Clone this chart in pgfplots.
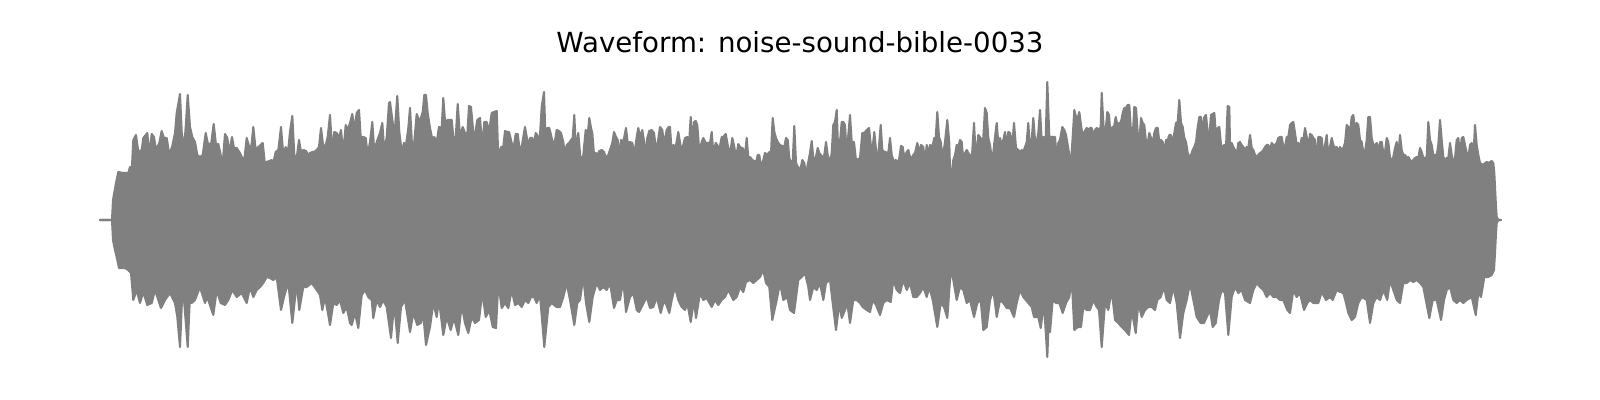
\documentclass[border=0pt]{standalone}
\usepackage{pgfplots}
\pgfplotsset{compat=1.18}
\usepackage{pgfplotstable}
\usepackage{fontspec}
\newfontfamily\dejavu{DejaVu Sans}
\definecolor{wave}{RGB}{128,128,128}
% upper envelope of the waveform: x position, amplitude
\pgfplotstableread{
x t
100 0
112 0
113 20
116 37
118.3 48
123.3 47
128.3 47
130 53
131.7 48
133.3 80
136 85
138.3 68
141.7 70
143.3 82
147.3 87
149.3 65
151.7 86
154 83
156 70
159.3 77
161.7 89
164 82
166.7 82
169.3 65
172.3 74
175 87
176.7 107
180 126
181.7 88
184 70
186 97
187.7 125
190 93
192.3 83
195 78
197.3 65
200 63
202.7 65
205.7 87
207.7 77
211 75
213.7 96
216 75
218.3 76
220.7 65
222.7 57
225 86
227.3 82
229.3 67
232 83
234 72
236.7 72
239.3 68
241.7 63
244.3 60
246.7 82
248.7 75
251 70
253.3 93
255.7 70
258.3 73
260.7 75
262.7 77
265 55
266.7 58
269.3 59
271.7 60
273.3 57
275.7 68
278.3 70
281 93
283.3 65
285.7 73
287.7 65
290 88
292.3 104
294.3 65
296.7 62
299 80
301 68
303.3 70
306 69
308.3 65
310 67
312.3 68
314.3 68
316.7 70
319 73
321 92
323.3 73
325.7 75
327.7 83
330 105
332.3 67
334.3 88
336.7 87
339 82
341 90
343.3 67
345.7 95
347.7 90
350 97
352.3 106
354.3 90
356.7 107
359 110
360.7 83
363.3 83
365.7 82
367.7 65
370 78
372.3 98
374.3 68
376.7 78
380 87
382.3 97
384.3 68
386.7 83
389 117
390 118
393.3 93
395 92
397.3 124
399.3 88
401.7 68
404 77
406 75
408.3 92
410 112
412 75
414 75
416.7 106
419 100
421 102
422.7 108
424.3 125
426 125
427.7 107
430 92
432 82
434.3 83
436.7 78
439 93
441.7 92
443.3 122
445.3 95
447.3 100
450 100
451.7 100
453.3 83
455.7 82
457.7 116
460 83
462.7 93
465 87
467.3 85
469 114
471 113
473.3 87
475 85
477.3 100
480 102
482.3 73
484.3 98
486.7 98
489 88
491.7 107
494 108
496.7 109
498.3 62
501 73
503.3 73
505 89
507.3 88
509 88
511 80
513.3 70
515.7 86
517.7 86
519.3 73
521.7 73
523.3 83
525 93
526.7 83
528.3 73
530 82
532.3 82
534 75
535.7 87
537.3 85
539.3 73
541.7 113
544 128
545.7 75
547.3 92
549.3 92
551.7 82
554 73
556.7 90
559 89
561 87
563.3 78
565 65
566.7 75
569 77
571 80
572.7 82
574.3 105
576 68
578.3 87
580.7 58
583.3 65
585.7 90
587.7 85
589.3 102
591 92
592.3 87
594 65
595.7 67
597.3 65
599.3 69
601.7 70
604 68
606 62
608.3 65
610 70
612.3 77
614 88
616 83
617.7 80
619.3 62
621 80
623.3 78
626 92
627.7 77
630 78
632.3 77
634.3 65
636.7 83
638.3 92
640 83
642.3 90
644.3 77
645.7 63
647.3 82
649.3 89
651.7 90
654 87
655.7 73
657.7 77
660 93
662.3 90
664 75
666.7 90
668.7 93
670 93
671.7 67
673.3 75
675.7 73
678.3 88
680.7 73
682.7 73
685 82
687.3 83
689 75
690.7 103
692.3 75
694 98
695.7 99
697.3 95
699.3 68
701.7 78
703.3 82
705.7 77
707.7 77
710 77
711.7 88
713.3 67
715.7 77
717.3 75
719.3 70
721.7 83
723.3 83
725.7 86
727.7 75
730 65
732.3 82
734.3 73
736 62
738.3 76
740.7 72
742.7 72
745 65
746.7 82
748.3 62
750 63
752.3 60
754.3 59
756 57
757.7 65
759.3 65
761 53
763.3 60
765 67
767.3 65
769.3 68
771 67
772.7 102
774.3 88
776 82
777.7 78
780 75
782.3 74
784.3 73
786 82
787.7 80
789.3 62
791 57
792.7 58
794.3 94
796 57
798.3 52
800.7 52
802.3 60
804.3 57
806 45
807.7 55
810 67
811.7 79
813.3 62
815.7 62
817.7 72
819.3 67
821 65
822.7 62
824.3 65
826 78
827.7 65
830 57
831.7 67
833.3 95
835 98
836.7 110
838.3 65
840 78
841.7 98
843.3 98
845 95
846.7 65
848.3 85
850 105
851.7 78
854 78
855.7 62
857.7 60
860 62
862.3 87
864.3 87
866.7 90
869 92
871 73
872.7 73
874.3 88
876.7 63
878.3 65
880.7 95
882.3 70
884.3 68
886 68
887.7 62
890 82
891.7 65
894 58
895.7 60
897.7 57
899.3 62
901 74
902.7 73
904.3 62
906.7 68
908.3 70
910 63
911.7 62
913.3 65
915 67
917.3 77
919.3 68
921 75
923.3 73
925 57
926.7 75
928.3 65
930 75
932.3 73
934.3 82
935.7 82
937.3 108
939 83
940.7 78
942.7 62
945 78
947.3 100
949.3 77
950 50
951.7 47
953.3 60
955 65
956.7 75
958.3 73
960 80
961.7 78
963.3 60
965 67
966.7 70
968.3 67
970 65
971.7 60
974 97
976 60
978.3 85
980 83
981.7 80
983.3 82
985 112
986.7 107
988.3 82
990 75
992.3 57
994.3 77
996.7 97
998.3 77
1000 82
1001.7 75
1003.3 80
1005 88
1006.7 73
1008.3 88
1010 87
1012.3 75
1014 97
1016 72
1018.3 70
1020 68
1021.7 70
1023.3 68
1025 73
1026.7 78
1028.3 97
1030 70
1031.7 80
1033.3 102
1035 80
1036.7 78
1038.3 87
1040 110
1041.7 80
1043.3 83
1045.7 82
1047.3 138
1049.3 83
1051 83
1052.7 83
1055 83
1056.7 62
1058.3 77
1060 80
1062.3 93
1064.3 90
1066 85
1067.7 75
1069.3 65
1071 58
1072.7 83
1074.3 110
1076 103
1077.7 102
1079.3 108
1081 95
1082.7 83
1084.3 88
1086.7 92
1088.3 90
1090 92
1091.7 92
1093.3 83
1095 90
1096.7 92
1099 90
1100.7 93
1101.7 127
1104 85
1105.7 90
1107.3 108
1109 105
1110.7 82
1112.3 93
1114 93
1115.7 103
1117.3 95
1119.3 97
1121 98
1122.7 107
1124.3 112
1126 112
1127.7 115
1129.3 115
1131 88
1132.7 83
1134.3 113
1136 112
1137.7 87
1139.3 77
1141 102
1142.7 97
1144.3 95
1146 78
1147.7 77
1149.3 87
1151 82
1152.7 77
1154.3 87
1156 92
1157.7 92
1159.3 78
1161 80
1162.7 78
1164.3 67
1166 80
1167.7 80
1169.3 85
1171 85
1172.7 75
1174.3 87
1176 97
1177.7 98
1179.3 120
1181 97
1182.7 93
1184.3 82
1186 78
1187.7 67
1189.3 63
1191 65
1192.7 70
1194.3 73
1196 78
1197.7 93
1199.3 103
1201 103
1202.7 88
1204.3 103
1206 105
1207.7 87
1209.3 83
1211 105
1212.7 106
1214.3 107
1216 85
1217.7 92
1219.3 93
1221 75
1222.7 73
1224.3 75
1226 73
1227.7 114
1229.3 113
1230 75
1231.7 77
1233.3 73
1235 70
1236.7 65
1238.3 77
1240 78
1241.7 75
1243.3 73
1245 70
1246.7 73
1248.3 72
1250 85
1251.7 72
1253.3 70
1255 65
1256.7 63
1258.3 65
1260 67
1261.7 68
1263.3 70
1265 73
1266.7 75
1268.3 75
1270 70
1271.7 77
1273.3 75
1275 75
1276.7 77
1278.3 82
1280 83
1281.7 83
1283.3 73
1285 73
1286.7 83
1288.3 83
1290 95
1291.7 97
1293.3 98
1295 87
1296.7 75
1298.3 77
1300 73
1301.7 82
1303.3 80
1305 92
1306.7 83
1308.3 72
1310 86
1311.7 85
1313.3 82
1315 80
1316.7 58
1318.3 83
1320 83
1321.7 82
1323.3 63
1325 75
1326.7 85
1328.3 63
1330 73
1331.7 82
1333.3 75
1335 72
1336.7 73
1338.3 68
1340 73
1341.7 70
1343.3 72
1345 77
1346.7 95
1348.3 93
1350 88
1351.7 103
1353.3 105
1355 90
1356.7 97
1358.3 95
1360 80
1361.7 78
1363.3 68
1365 68
1366.7 80
1368.3 103
1370 103
1371.7 82
1373.3 75
1375 75
1376.7 77
1378.3 68
1380 78
1381.7 78
1383.3 67
1385 68
1386.7 82
1388.3 78
1390 62
1391.7 60
1393.3 63
1395 72
1396.7 78
1398.3 65
1400 85
1401.7 70
1403.3 65
1405 65
1406.7 62
1408.3 63
1410 60
1411.7 58
1413.3 60
1415 62
1416.7 63
1418.3 62
1420 72
1421.7 68
1423.3 62
1425 62
1426.7 63
1428.3 98
1430 80
1431.7 75
1433.3 65
1435 65
1436.7 65
1438.3 75
1440 100
1441.7 80
1443.3 63
1445 60
1446.7 62
1448.3 62
1450 77
1451.7 65
1453.3 57
1455 62
1456.7 80
1458.3 82
1460 65
1461.7 82
1463.3 83
1465 75
1466.7 67
1468.3 62
1470 75
1471.7 77
1473.3 62
1475 95
1476.7 75
1478.3 65
1480 57
1481.7 56
1483.3 55
1485 57
1486.7 58
1488.3 57
1490 58
1491.7 59
1493.3 57
1494.3 47
1495 33
1496 13
1496.7 3
1498.3 0
1501 0
}\wavetop
% lower envelope of the waveform: x position, amplitude
\pgfplotstableread{
x b
100 0
112 0
113 -20
115 -30
116.7 -37
119 -48
125 -48
128 -50
131 -53
133.3 -80
136.7 -70
140 -83
143.3 -72
147.3 -85
151.7 -83
155 -70
161 -88
165 -80
170 -73
175 -83
177.3 -97
180 -127
182 -80
184.3 -83
187.7 -127
189.7 -82
191.7 -83
195 -80
200 -67
205 -83
207.3 -77
213.3 -95
216.7 -70
220.7 -83
225 -85
228.3 -80
232.3 -70
236.7 -77
241.7 -73
246.7 -83
250 -67
253.3 -77
256.7 -70
260 -67
263.3 -63
266.7 -57
270 -58
273.3 -60
276.7 -57
281 -90
284 -77
288.3 -62
292.3 -103
296.7 -63
299.3 -90
303.3 -67
306.7 -67
311.7 -63
316.7 -70
320 -75
322.3 -90
325 -77
328.3 -95
330 -105
333.3 -83
336.7 -85
340 -80
343.3 -93
346.7 -87
350 -103
351.7 -105
355 -93
358.3 -108
361.7 -75
365 -70
368.3 -77
371.7 -80
373.3 -98
376.7 -80
380 -87
383.3 -80
386.7 -87
391 -118
394.3 -83
397.7 -123
401 -87
405 -80
410 -112
413.3 -93
417.3 -105
420.7 -103
423.3 -95
426 -125
430 -107
433.3 -83
436.7 -97
439 -80
443.3 -115
446.7 -97
450.7 -110
454 -98
458.3 -115
461.7 -85
465 -103
468.3 -113
471.7 -97
475 -103
479 -100
482.3 -72
485.7 -97
489.3 -90
492.7 -107
496 -108
498.3 -63
501.7 -88
505 -83
508.3 -88
511.7 -70
515 -85
518.3 -83
521.7 -87
525 -80
528.3 -83
531 -77
534 -77
536.7 -83
540 -75
544.3 -127
548.3 -87
551.7 -83
556.7 -87
560 -87
563.3 -77
566.7 -63
570 -80
574.3 -105
577.3 -83
580 -80
583.3 -57
586 -83
589.3 -102
592.7 -77
596.7 -63
600 -70
603.3 -67
606.7 -70
610 -63
614 -88
616.7 -80
620 -80
623.3 -60
626 -92
630 -77
633.3 -73
636.7 -90
639 -92
642.7 -85
646.7 -77
650 -88
653.3 -87
656.7 -77
660.7 -93
663.3 -83
665.7 -83
669.3 -93
671.7 -80
675 -67
678.3 -80
681.7 -87
685 -90
687.3 -83
690.7 -102
694 -80
696 -98
700 -73
703.3 -80
706.7 -78
711.7 -87
715 -80
718.3 -85
721.7 -80
725 -77
728.3 -70
733.3 -80
736.7 -77
740 -67
743.3 -72
746 -62
750 -60
753.3 -63
756.7 -60
760 -57
763.3 -50
766 -63
769.3 -67
772.3 -100
776.7 -80
780 -63
783.3 -80
787.3 -77
790 -90
794 -93
798.3 -60
801.7 -57
805 -53
808.3 -67
810 -80
813.3 -67
816.7 -70
820 -63
823.3 -80
826 -63
830 -60
832.7 -83
836 -110
839.3 -83
841.7 -98
845 -90
847.3 -83
850 -103
853.3 -80
856.7 -80
860 -83
862.7 -87
866.7 -90
870 -92
872.7 -80
876 -85
880 -95
883.3 -83
886.7 -80
890.7 -82
893.3 -60
896.7 -70
900 -73
903.3 -60
906.7 -70
910 -63
913.3 -77
916.7 -77
920 -73
923.3 -67
926.7 -77
929.3 -67
932.7 -80
937.3 -107
940.7 -83
944 -87
947.3 -98
950.7 -50
953.3 -60
956.7 -80
960 -67
963.3 -70
966.7 -83
970 -80
974 -97
977.3 -83
980.7 -80
983.3 -110
986.7 -107
990 -80
993.3 -70
996.7 -97
1000 -80
1003.3 -83
1006.7 -88
1010 -88
1014 -97
1016.7 -83
1020 -70
1023.3 -77
1028.3 -83
1031.7 -87
1034 -97
1038.3 -97
1040.7 -108
1044 -83
1047.3 -137
1049.3 -85
1050 -112
1052.7 -80
1056 -83
1059.3 -83
1062.7 -93
1066 -83
1069.3 -77
1071.7 -58
1074.3 -110
1077.7 -107
1081 -107
1083.3 -87
1086.7 -90
1090 -90
1093.3 -80
1096.7 -87
1099 -90
1101.7 -127
1105 -83
1108.3 -90
1111.7 -70
1115 -100
1118.3 -103
1121.7 -107
1125 -110
1129 -115
1131.7 -90
1135.7 -113
1138.3 -83
1141.7 -97
1145 -90
1148.3 -87
1151.7 -87
1155 -90
1157.3 -80
1160.7 -77
1164 -67
1166.7 -80
1170 -83
1173.3 -67
1176.7 -83
1180 -118
1183.3 -93
1186.7 -80
1190 -63
1193.3 -80
1196.7 -97
1200.7 -103
1204 -103
1206.7 -97
1210 -90
1212.7 -107
1215.7 -103
1219 -80
1221.7 -70
1225 -73
1228.3 -115
1231.7 -77
1235 -67
1238.3 -73
1241.7 -70
1245 -80
1250 -83
1253.3 -70
1256.7 -63
1260 -67
1263.3 -70
1266.7 -77
1270 -73
1273.3 -77
1276.7 -77
1280 -80
1283.3 -80
1287.3 -90
1290 -93
1293.3 -70
1296.7 -77
1300 -73
1304 -90
1307.3 -83
1310 -80
1313.3 -83
1318.3 -83
1321.7 -72
1326 -80
1330 -77
1332.7 -80
1336.7 -70
1340 -72
1343.3 -73
1346 -83
1348.3 -93
1351.7 -100
1355 -97
1358.3 -83
1361.7 -77
1366.7 -80
1370 -103
1373.3 -83
1376.7 -77
1380 -80
1383.3 -70
1387.3 -80
1390 -60
1393.3 -70
1396.7 -80
1400 -83
1403.3 -63
1406.7 -63
1410 -60
1413.3 -62
1416.7 -60
1420 -63
1423.3 -67
1429.3 -98
1432.7 -80
1436.7 -80
1441 -100
1444 -80
1446.7 -70
1450 -67
1453.3 -80
1456.7 -83
1460 -80
1463.3 -83
1466.7 -80
1471.7 -77
1475.7 -95
1478.3 -73
1481 -77
1484.3 -57
1488.3 -57
1491.7 -55
1494 -50
1495 -33
1496 -13
1496.7 -3
1498.3 0
1501 0
}\wavebot
\begin{document}
\begin{tikzpicture}
\begin{axis}[
  scale only axis,
  width=16in, height=4in,
  xmin=0, xmax=1600,
  ymin=-180, ymax=220,
  hide axis,
  clip=false,
]
\addplot[draw=wave, fill=wave, line width=1.5pt, line join=round, line cap=round, mark=none]
  table[x=x, y=t] {\wavetop} -- cycle;
\addplot[draw=wave, fill=wave, line width=1.5pt, line join=round, line cap=round, mark=none]
  table[x=x, y=b] {\wavebot} -- cycle;
\node[anchor=base, font=\dejavu\fontsize{20}{24}\selectfont, text=black, inner sep=0pt]
  at (axis cs:800,167) {Waveform: noise-sound-bible-0033};
\end{axis}
\pgfresetboundingbox
\useasboundingbox (current axis.south west) rectangle (current axis.north east);
\end{tikzpicture}
\end{document}
